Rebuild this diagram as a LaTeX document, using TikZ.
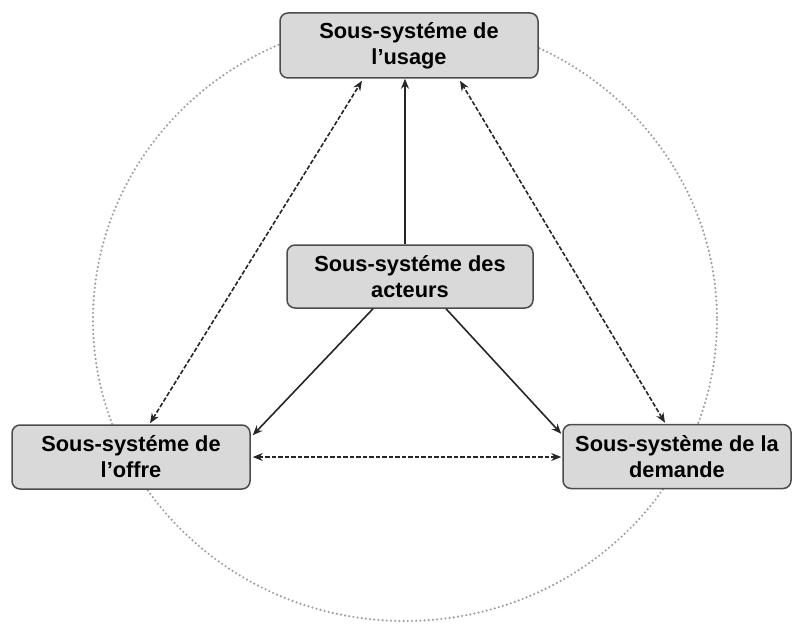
\documentclass[tikz,border=0pt]{standalone}
\usepackage{fontspec}
\setmainfont{Liberation Sans}
\usetikzlibrary{arrows.meta}
\tikzset{
  box/.style={draw=black!70, line width=1.5pt, fill=black!15, rounded corners=8pt,
    align=center, inner sep=0pt, font=\bfseries\fontsize{21.8}{26}\selectfont},
  solidarr/.style={line width=1.6pt, draw=black!85, -{Stealth[length=10pt,width=8pt]}},
  dasharr/.style={line width=1.6pt, draw=black!85, dash pattern=on 4.5pt off 2pt,
    {Stealth[length=10pt,width=8pt]}-{Stealth[length=10pt,width=8pt]}},
  ring/.style={draw=black!38, line width=2.4pt, line cap=round, dash pattern=on 0pt off 4.2pt}
}
\begin{document}
\begin{tikzpicture}[x=1pt,y=-1pt]
\useasboundingbox (0,0) rectangle (794,623);
\draw[ring] (405,320) ellipse [x radius=312, y radius=301];
\node[box, minimum width=258pt, minimum height=65pt] (top) at (409,45.5) {Sous-systéme de\\l’usage};
\node[box, minimum width=246pt, minimum height=63pt] (mid) at (410,276.5) {Sous-systéme des\\acteurs};
\node[box, minimum width=238pt, minimum height=64pt] (left) at (131,457) {Sous-systéme de\\l’offre};
\node[box, minimum width=228pt, minimum height=64pt] (right) at (677,456.5) {Sous-système de la\\demande};
\draw[solidarr] ([xshift=-5pt]mid.north) -- ([xshift=-4pt]top.south);
\draw[solidarr] ([xshift=-37pt]mid.south) -- ([xshift=2pt,yshift=-11pt]left.north east);
\draw[solidarr] ([xshift=36pt]mid.south) -- ([xshift=-1pt,yshift=-10pt]right.north west);
\draw[dasharr] ([xshift=19pt,yshift=1pt]left.north) -- ([xshift=-47pt,yshift=-2pt]top.south);
\draw[dasharr] ([xshift=-12pt,yshift=1pt]right.north) -- ([xshift=51pt,yshift=-2pt]top.south);
\draw[dasharr] ([xshift=2pt]left.east) -- ([xshift=-1pt,yshift=-0.5pt]right.west);
\end{tikzpicture}
\end{document}
